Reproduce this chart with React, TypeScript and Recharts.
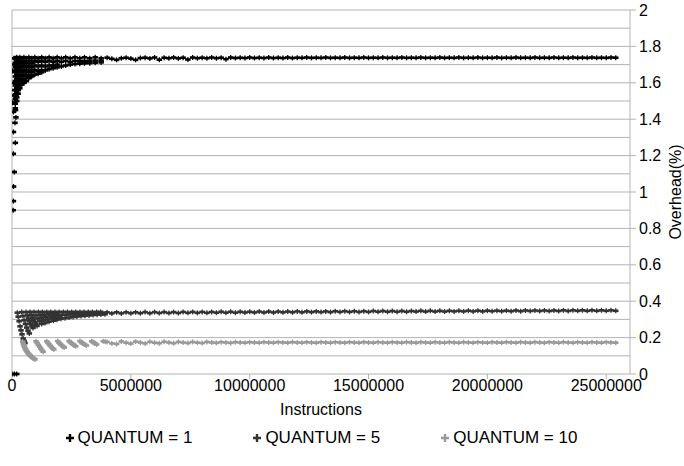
import { CartesianGrid, Label, ReferenceLine, Scatter, ScatterChart, XAxis, YAxis } from "recharts";

const xTicks = [0, 5000000, 10000000, 15000000, 20000000, 25000000];
const yTicks = [0, 0.2, 0.4, 0.6, 0.8, 1, 1.2, 1.4, 1.6, 1.8, 2];
const gridLevels = [0.1, 0.2, 0.3, 0.4, 0.5, 0.6, 0.7, 0.8, 0.9, 1, 1.1, 1.2, 1.3, 1.4, 1.5, 1.6, 1.7, 1.8, 1.9, 2];

// early part of each run: [instructions, overhead %]
const quantum1Early: [number, number][] = [
  [0, 0], [100000, 0], [200000, 0],
  [50000, 0.9], [60000, 0.95], [65000, 1.03], [95000, 1.11], [55000, 1.21], [140000, 1.27],
  [60000, 1.33], [125000, 1.38], [165000, 1.41], [60000, 1.44], [150000, 1.45],
  [20000, 1.49], [100000, 1.49], [80000, 1.53], [120000, 1.56], [70000, 1.6],
  [20000, 1.665], [100000, 1.665], [90000, 1.7], [80000, 1.735],
  [140000, 1.735], [140000, 1.71], [140000, 1.685], [140000, 1.66], [140000, 1.635], [140000, 1.61],
  [140000, 1.585], [140000, 1.56], [140000, 1.535], [140000, 1.51], [140000, 1.485], [140000, 1.46],
  [200000, 1.74], [200000, 1.72], [200000, 1.695], [200000, 1.67], [200000, 1.645], [200000, 1.62],
  [200000, 1.595], [200000, 1.57], [200000, 1.545], [200000, 1.52], [200000, 1.5],
  [260000, 1.735], [260000, 1.71], [260000, 1.685], [260000, 1.665], [260000, 1.635], [260000, 1.61],
  [260000, 1.585], [260000, 1.56], [260000, 1.54], [300000, 1.665],
  [330000, 1.74], [330000, 1.72], [330000, 1.695], [330000, 1.67], [330000, 1.645], [330000, 1.62],
  [330000, 1.595], [330000, 1.57],
  [410000, 1.735], [410000, 1.71], [410000, 1.685], [410000, 1.66], [410000, 1.635], [410000, 1.61], [410000, 1.59],
  [500000, 1.74], [500000, 1.72], [500000, 1.695], [500000, 1.67], [500000, 1.645], [500000, 1.62], [500000, 1.6],
  [600000, 1.735], [600000, 1.71], [600000, 1.685], [600000, 1.66], [600000, 1.635], [600000, 1.61],
  [710000, 1.74], [710000, 1.72], [710000, 1.695], [710000, 1.67], [710000, 1.645], [710000, 1.625],
  [830000, 1.735], [830000, 1.71], [830000, 1.685], [830000, 1.66], [830000, 1.635],
  [960000, 1.74], [960000, 1.72], [960000, 1.695], [960000, 1.67], [960000, 1.645],
  [1100000, 1.735], [1100000, 1.715], [1100000, 1.69], [1100000, 1.665], [1100000, 1.65],
  [1250000, 1.74], [1250000, 1.72], [1250000, 1.695], [1250000, 1.67], [1250000, 1.658],
  [1400000, 1.735], [1400000, 1.715], [1400000, 1.69], [1400000, 1.668],
  [1560000, 1.74], [1560000, 1.72], [1560000, 1.695], [1560000, 1.675],
  [1730000, 1.735], [1730000, 1.715], [1730000, 1.695], [1730000, 1.68],
  [1900000, 1.74], [1900000, 1.72], [1900000, 1.7], [1900000, 1.685],
  [2080000, 1.735], [2080000, 1.715], [2080000, 1.69],
  [2260000, 1.74], [2260000, 1.72], [2260000, 1.695],
  [2450000, 1.735], [2450000, 1.715], [2450000, 1.7],
  [2650000, 1.74], [2650000, 1.72], [2650000, 1.703],
  [2850000, 1.735], [2850000, 1.718], [2850000, 1.705],
  [3050000, 1.74], [3050000, 1.72], [3050000, 1.707],
  [3270000, 1.735], [3270000, 1.72], [3270000, 1.708],
  [3500000, 1.74], [3500000, 1.722], [3500000, 1.71],
  [3750000, 1.735], [3750000, 1.722], [3750000, 1.712],
];

const quantum5Early: [number, number][] = [
  [223000, 0.337], [260000, 0.315], [300000, 0.29], [340000, 0.262], [380000, 0.24], [420000, 0.218],
  [470000, 0.195], [510000, 0.182], [547000, 0.17],
  [408000, 0.34], [460000, 0.318], [510000, 0.295], [565000, 0.275], [620000, 0.255], [675000, 0.238], [728000, 0.223],
  [589000, 0.34], [640000, 0.322], [690000, 0.305], [740000, 0.29], [790000, 0.275], [840000, 0.263], [883000, 0.253],
  [757000, 0.341], [810000, 0.325], [860000, 0.31], [910000, 0.297], [960000, 0.285], [1010000, 0.274], [1052000, 0.264],
  [926000, 0.341], [1010000, 0.322], [1090000, 0.305], [1170000, 0.29], [1250000, 0.275],
  [1107000, 0.341], [1180000, 0.325], [1250000, 0.31], [1320000, 0.295], [1390000, 0.28],
  [1276000, 0.341], [1350000, 0.326], [1420000, 0.312], [1490000, 0.3], [1557000, 0.287],
  [1460000, 0.341], [1530000, 0.328], [1600000, 0.316], [1670000, 0.305], [1740000, 0.293],
  [1630000, 0.341], [1700000, 0.33], [1760000, 0.318], [1830000, 0.308], [1890000, 0.298],
  [1810000, 0.341], [1875000, 0.331], [1935000, 0.322], [2000000, 0.312], [2060000, 0.303],
  [1980000, 0.341], [2100000, 0.325], [2230000, 0.307],
  [2160000, 0.341], [2280000, 0.326], [2400000, 0.31],
  [2330000, 0.341], [2450000, 0.327], [2570000, 0.313],
  [2510000, 0.341], [2620000, 0.328], [2730000, 0.316],
  [2680000, 0.341], [2790000, 0.33], [2900000, 0.318],
  [2860000, 0.341], [2960000, 0.33], [3070000, 0.32],
  [3030000, 0.341], [3140000, 0.331], [3240000, 0.322],
  [3210000, 0.341], [3310000, 0.332], [3410000, 0.324],
  [3380000, 0.341], [3480000, 0.333], [3580000, 0.326],
  [3560000, 0.341], [3650000, 0.334], [3740000, 0.327],
  [3730000, 0.341], [3820000, 0.334], [3910000, 0.328],
];

const quantum10Early: [number, number][] = [
  [450000, 0.178], [475000, 0.168], [500000, 0.158], [525000, 0.15], [547000, 0.142], [580000, 0.134],
  [610000, 0.127], [640000, 0.121], [673000, 0.115], [705000, 0.11], [740000, 0.105], [770000, 0.101],
  [800000, 0.097], [840000, 0.092], [880000, 0.088], [925000, 0.084], [968000, 0.08],
  [1010000, 0.18], [1060000, 0.17], [1110000, 0.16], [1160000, 0.15], [1210000, 0.14], [1260000, 0.131], [1310000, 0.122],
  [1460000, 0.18], [1510000, 0.171], [1560000, 0.163], [1610000, 0.155], [1660000, 0.148], [1710000, 0.141], [1760000, 0.135],
  [1920000, 0.181], [1970000, 0.173], [2020000, 0.166], [2070000, 0.16], [2120000, 0.155], [2160000, 0.15], [2200000, 0.145],
  [2400000, 0.181], [2450000, 0.175], [2500000, 0.169], [2550000, 0.164], [2600000, 0.16], [2640000, 0.156], [2680000, 0.152],
  [2860000, 0.181], [2910000, 0.175], [2960000, 0.17], [3010000, 0.166], [3060000, 0.162], [3130000, 0.157],
  [3350000, 0.18], [3400000, 0.176], [3450000, 0.172], [3500000, 0.167], [3560000, 0.162],
  [3840000, 0.18], [3920000, 0.177],
];

// long flat part, instructions in millions
const tailMillions = [
  4, 4.2, 4.4, 4.6, 4.8, 5, 5.2, 5.4, 5.6, 5.8,
  6, 6.2, 6.4, 6.6, 6.8, 7, 7.2, 7.4, 7.6, 7.8,
  8, 8.2, 8.4, 8.6, 8.8, 9, 9.2, 9.4, 9.6, 9.8,
  10, 10.2, 10.4, 10.6, 10.8, 11, 11.2, 11.4, 11.6, 11.8,
  12, 12.2, 12.4, 12.6, 12.8, 13, 13.2, 13.4, 13.6, 13.8,
  14, 14.2, 14.4, 14.6, 14.8, 15, 15.2, 15.4, 15.6, 15.8,
  16, 16.2, 16.4, 16.6, 16.8, 17, 17.2, 17.4, 17.6, 17.8,
  18, 18.2, 18.4, 18.6, 18.8, 19, 19.2, 19.4, 19.6, 19.8,
  20, 20.2, 20.4, 20.6, 20.8, 21, 21.2, 21.4, 21.6, 21.8,
  22, 22.2, 22.4, 22.6, 22.8, 23, 23.2, 23.4, 23.6, 23.8,
  24, 24.2, 24.4, 24.6, 24.8, 25, 25.2, 25.4,
];

const quantum1Tail = [
  1.738, 1.732, 1.726, 1.735, 1.738, 1.733, 1.726, 1.736, 1.738, 1.734,
  1.739, 1.727, 1.738, 1.735, 1.739, 1.734, 1.738, 1.728, 1.739, 1.735,
  1.738, 1.735, 1.739, 1.735, 1.738, 1.73, 1.739, 1.736, 1.738, 1.736,
  1.739, 1.736, 1.738, 1.736, 1.739, 1.736, 1.738, 1.736, 1.739, 1.736,
  1.738, 1.737, 1.739, 1.737, 1.738, 1.737, 1.739, 1.737, 1.738, 1.737,
  1.739, 1.737, 1.738, 1.737, 1.739, 1.737, 1.738, 1.737, 1.739, 1.737,
  1.738, 1.737, 1.739, 1.737, 1.738, 1.737, 1.739, 1.737, 1.738, 1.737,
  1.739, 1.737, 1.738, 1.737, 1.739, 1.737, 1.738, 1.737, 1.739, 1.737,
  1.738, 1.737, 1.739, 1.737, 1.738, 1.737, 1.739, 1.737, 1.738, 1.737,
  1.739, 1.737, 1.738, 1.737, 1.739, 1.737, 1.738, 1.737, 1.739, 1.737,
  1.738, 1.737, 1.739, 1.737, 1.738, 1.737, 1.739, 1.738,
];

const quantum5Tail = [
  0.339, 0.333, 0.339, 0.333, 0.339, 0.334, 0.339, 0.334, 0.34, 0.334,
  0.34, 0.335, 0.34, 0.335, 0.34, 0.335, 0.341, 0.336, 0.341, 0.336,
  0.341, 0.336, 0.341, 0.337, 0.342, 0.337, 0.342, 0.337, 0.342, 0.338,
  0.342, 0.338, 0.343, 0.338, 0.343, 0.338, 0.343, 0.339, 0.343, 0.339,
  0.344, 0.339, 0.344, 0.34, 0.344, 0.34, 0.344, 0.34, 0.345, 0.341,
  0.345, 0.341, 0.345, 0.341, 0.345, 0.341, 0.346, 0.342, 0.346, 0.342,
  0.346, 0.342, 0.346, 0.342, 0.346, 0.343, 0.347, 0.343, 0.347, 0.343,
  0.347, 0.343, 0.347, 0.344, 0.347, 0.344, 0.348, 0.344, 0.348, 0.344,
  0.348, 0.345, 0.348, 0.345, 0.348, 0.345, 0.349, 0.345, 0.349, 0.346,
  0.349, 0.346, 0.349, 0.346, 0.349, 0.346, 0.35, 0.346, 0.35, 0.347,
  0.35, 0.347, 0.35, 0.347, 0.35, 0.347, 0.35, 0.347,
];

const quantum10Tail = [
  0.176, 0.168, 0.165, 0.179, 0.172, 0.167, 0.178, 0.173, 0.168, 0.177,
  0.172, 0.169, 0.177, 0.173, 0.169, 0.176, 0.173, 0.17, 0.176, 0.172,
  0.17, 0.176, 0.173, 0.171, 0.175, 0.173, 0.171, 0.175, 0.173, 0.172,
  0.175, 0.173, 0.172, 0.175, 0.173, 0.172, 0.175, 0.173, 0.172, 0.175,
  0.173, 0.172, 0.175, 0.173, 0.172, 0.175, 0.173, 0.172, 0.175, 0.173,
  0.172, 0.175, 0.173, 0.172, 0.175, 0.173, 0.172, 0.175, 0.173, 0.172,
  0.175, 0.173, 0.172, 0.175, 0.173, 0.172, 0.175, 0.173, 0.172, 0.175,
  0.173, 0.172, 0.175, 0.173, 0.172, 0.175, 0.173, 0.172, 0.175, 0.173,
  0.172, 0.175, 0.173, 0.172, 0.175, 0.173, 0.172, 0.175, 0.173, 0.172,
  0.175, 0.173, 0.172, 0.175, 0.173, 0.172, 0.175, 0.173, 0.172, 0.175,
  0.173, 0.172, 0.175, 0.173, 0.172, 0.175, 0.173, 0.172,
];

const seriesNames = ["QUANTUM = 1", "QUANTUM = 5", "QUANTUM = 10"];
const seriesColors = ["#000000", "#333333", "#999999"];

const FONT = "'Liberation Sans', Arial, sans-serif";
const GRID = "#b3b3b3";

function toPoints(early: [number, number][], tail: number[]) {
  return [
    ...early.map(([x, y]) => ({ x, y })),
    ...tailMillions.map((m, i) => ({ x: m * 1000000, y: tail[i] })),
  ];
}

const series = [
  toPoints(quantum1Early, quantum1Tail),
  toPoints(quantum5Early, quantum5Tail),
  toPoints(quantum10Early, quantum10Tail),
];

function Plus({ cx, cy, color }: { cx?: number; cy?: number; color: string }) {
  if (cx == null || cy == null) return null;
  return (
    <g stroke={color} fill="none">
      <path d={`M${cx - 2.75},${cy}H${cx + 2.75}`} strokeWidth={2.6} />
      <path d={`M${cx},${cy - 2.5}V${cy + 2.5}`} strokeWidth={1.3} />
    </g>
  );
}

export default function App() {
  return (
    <div style={{ position: "absolute", left: 0, top: 0, width: 684, height: 466, background: "#fff", fontFamily: FONT }}>
      <ScatterChart width={684} height={466} margin={{ top: 10, right: 0, bottom: 42, left: 12 }}>
        <CartesianGrid stroke={GRID} horizontal={false} verticalValues={[0]} />
        {gridLevels.map((v) => (
          <ReferenceLine key={v} y={v} stroke={GRID} strokeWidth={1} />
        ))}
        <XAxis
          type="number"
          dataKey="x"
          domain={[0, 26000000]}
          ticks={xTicks}
          height={50}
          allowDataOverflow
          stroke={GRID}
          tickSize={5}
          tickMargin={1}
          tick={{ fill: "#000", fontSize: 16, fontFamily: FONT }}
        >
          <Label
            content={({ viewBox }: any) => (
              <text x={viewBox.x + viewBox.width / 2} y={viewBox.y + 41} textAnchor="middle" fontSize={16} fontFamily={FONT} fill="#000">
                Instructions
              </text>
            )}
          />
        </XAxis>
        <YAxis
          type="number"
          dataKey="y"
          orientation="right"
          domain={[0, 2]}
          ticks={yTicks}
          width={54}
          stroke={GRID}
          tickSize={6}
          tickMargin={3}
          tick={{ fill: "#000", fontSize: 16, fontFamily: FONT }}
        >
          <Label
            content={({ viewBox }: any) => {
              const x = viewBox.x + 51;
              const y = viewBox.y + viewBox.height / 2;
              return (
                <text x={x} y={y} transform={`rotate(-90 ${x} ${y})`} textAnchor="middle" fontSize={16} fontFamily={FONT} fill="#000">
                  Overhead(%)
                </text>
              );
            }}
          />
        </YAxis>
        {series.map((data, i) => (
          <Scatter
            key={seriesNames[i]}
            name={seriesNames[i]}
            data={data}
            isAnimationActive={false}
            shape={(p: any) => <Plus cx={p.cx} cy={p.cy} color={seriesColors[i]} />}
          />
        ))}
      </ScatterChart>
      <div
        style={{
          position: "absolute",
          top: 428,
          left: 0,
          width: 642,
          display: "flex",
          justifyContent: "center",
          gap: 60,
          fontSize: 17,
          color: "#000",
          lineHeight: "20px",
        }}
      >
        {seriesNames.map((name, i) => (
          <div key={name} style={{ display: "flex", alignItems: "center", gap: 3 }}>
            <svg width={10} height={10}>
              <path d="M1,5H9M5,1V9" stroke={seriesColors[i]} strokeWidth={2.4} />
            </svg>
            <span>{name}</span>
          </div>
        ))}
      </div>
    </div>
  );
}
